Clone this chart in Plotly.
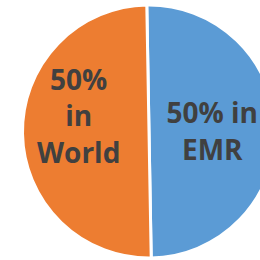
import plotly.graph_objects as go

labels = ["EMR", "World"]
values = [50, 50]
texts = ["50% in<br>EMR", ""]
world_label = "50%<br>in<br>World"
colors = ["#5B9BD5", "#ED7D31"]

fig = go.Figure(go.Pie(
    labels=labels,
    values=values,
    text=texts,
    textinfo="text",
    textposition="inside",
    insidetextorientation="horizontal",
    insidetextfont=dict(family="Open Sans", size=28, color="#404040", weight="bold"),
    marker=dict(colors=colors, line=dict(color="white", width=3)),
    sort=False,
    direction="clockwise",
    rotation=-1,
    showlegend=False,
    hoverinfo="none",
))
fig.add_annotation(
    text=world_label, xref="paper", yref="paper",
    x=0.262, y=0.565, xanchor="center", yanchor="middle",
    showarrow=False,
    font=dict(family="Open Sans", size=28, color="#404040", weight="bold"),
)
fig.update_layout(
    width=298, height=260,
    margin=dict(l=0, r=0, t=5, b=2),
    paper_bgcolor="white",
    plot_bgcolor="white",
)
fig.write_html("out.html", config={"displayModeBar": False},
               post_script="document.body.style.margin='0';document.body.style.overflow='hidden';")
